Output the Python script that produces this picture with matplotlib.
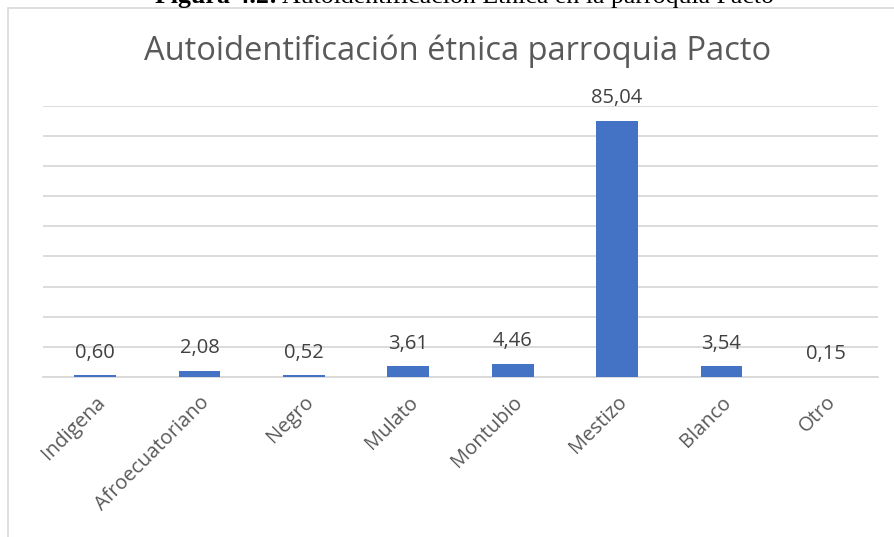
import matplotlib
matplotlib.use('Agg')
import matplotlib.pyplot as plt
from matplotlib.patches import Rectangle

plt.rcParams['font.family'] = ['Open Sans', 'DejaVu Sans']

# datos
categorias = ['Indigena', 'Afroecuatoriano', 'Negro', 'Mulato', 'Montubio',
              'Mestizo', 'Blanco', 'Otro']
porcentajes = [0.60, 2.08, 0.52, 3.61, 4.46, 85.04, 3.54, 0.15]
etiquetas = ['0,60', '2,08', '0,52', '3,61', '4,46', '85,04', '3,54', '0,15']

gris_texto = '#595959'
gris_linea = '#d9d9d9'
azul = '#4472c4'

fig = plt.figure(figsize=(8.94, 5.37), dpi=100)
W, H = 894, 537

# marco del grafico (solo se ven borde izquierdo y superior)
fig.patches.append(Rectangle((8 / W, -0.1), 1.2, 1.1 - 8 / H,
                             transform=fig.transFigure, fill=False,
                             edgecolor=gris_linea, linewidth=1.2))

ax = fig.add_axes([43 / W, 1 - 377 / H, (878 - 43) / W, (377 - 105.7) / H])
x = list(range(len(categorias)))
ax.bar(x, porcentajes, width=0.4, color=azul, zorder=3)
ax.set_xlim(-0.5, len(categorias) - 0.5)
ax.set_ylim(0, 90)
ax.set_yticks(range(0, 91, 10))
ax.yaxis.grid(True, color=gris_linea, linewidth=1.3, zorder=0)
ax.tick_params(axis='y', left=False, labelleft=False)
ax.tick_params(axis='x', length=0, pad=11)
for s in ['top', 'right', 'left']:
    ax.spines[s].set_visible(False)
ax.spines['bottom'].set_color(gris_linea)
ax.spines['bottom'].set_linewidth(1.3)
ax.set_xticks(x)
ax.set_xticklabels(categorias, rotation=45, ha='right', rotation_mode='anchor',
                   fontsize=14.5, color=gris_texto)

for xi, v, t in zip(x, porcentajes, etiquetas):
    ax.annotate(t, (xi, v), xytext=(0, 9), textcoords='offset points',
                ha='center', va='bottom', fontsize=14.5, color='#404040')

fig.text(458 / W, 1 - 60 / H, 'Autoidentificación étnica parroquia Pacto',
         ha='center', va='baseline', fontsize=23.5, color=gris_texto)

# pie de figura cortado arriba
t1 = fig.text(155 / W, 1 - 3 / H, 'Figura 4.2:', family='Liberation Serif',
              fontweight='bold', fontsize=18.6, va='baseline', ha='left')
fig.canvas.draw()
bb = t1.get_window_extent()
fig.text(bb.x1 / W + 5 / W, 1 - 3 / H,
         'Autoidentificación Étnica en la parroquia Pacto',
         family='Liberation Serif', fontsize=18.6, va='baseline', ha='left')

fig.savefig('out.png', dpi=100)
